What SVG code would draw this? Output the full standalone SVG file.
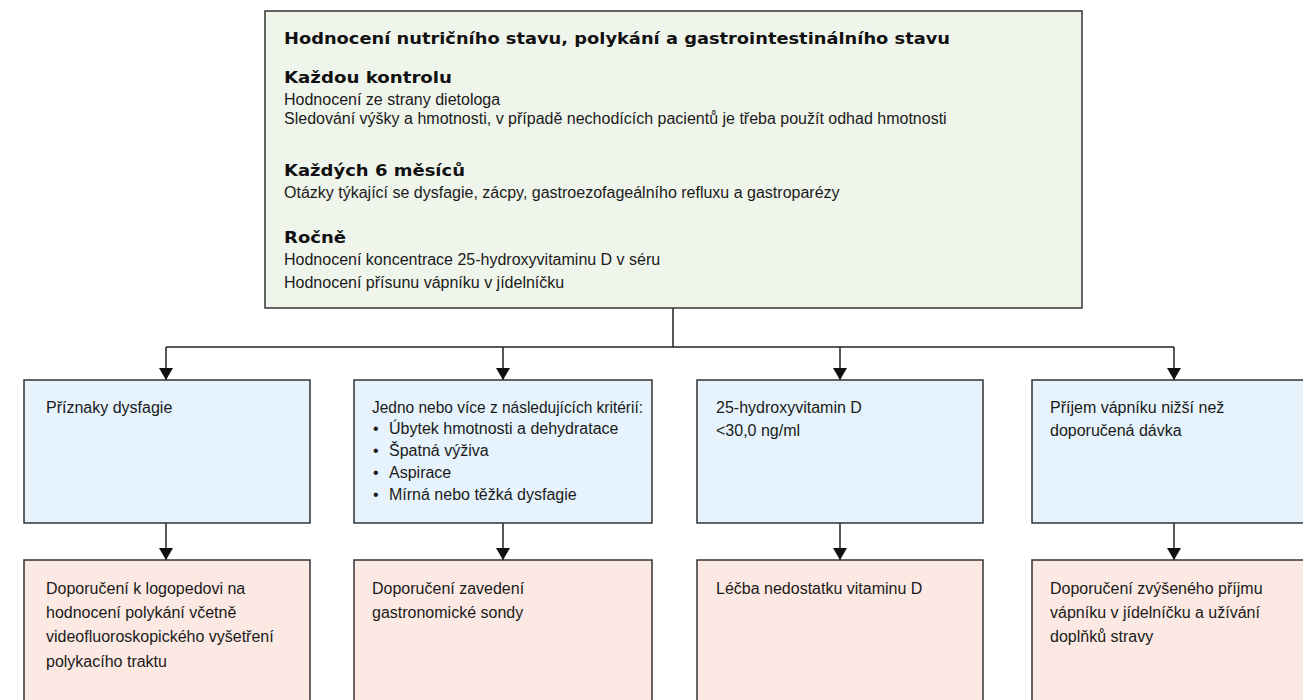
<svg xmlns="http://www.w3.org/2000/svg" width="1303" height="700" viewBox="0 0 1303 700">
  <style>
    .box { stroke: #333333; stroke-width: 1.5; }
    .green { fill: #f0f5ec; }
    .blue { fill: #e6f3fc; }
    .rose { fill: #fde9e3; }
    .title { font-family: "DejaVu Sans", "Liberation Sans", sans-serif; font-weight: bold; font-size: 15px; fill: #111111; }
    .head { font-family: "DejaVu Sans", "Liberation Sans", sans-serif; font-weight: bold; font-size: 16.5px; fill: #111111; }
    .body { font-family: "Liberation Sans", Arial, sans-serif; font-size: 16px; fill: #1a1a1a; }
    .conn { fill: none; stroke: #222222; stroke-width: 1.5; }
  </style>
  <defs>
    <!-- solid triangular head, drawn along +x so orient="auto" follows the line -->
    <marker id="arrow" markerUnits="userSpaceOnUse" markerWidth="13" markerHeight="14" refX="12" refY="7" orient="auto" viewBox="0 0 13 14">
      <path d="M0,0 L12,7 L0,14 Z" fill="#111111"/>
    </marker>
  </defs>

  <rect width="1303" height="700" fill="#ffffff"/>

  <!-- connectors -->
  <g id="connectors">
    <polyline class="conn" points="673,308 673,347"/>
    <polyline class="conn" points="166,347 1174,347"/>
    <line class="conn" x1="166" y1="347" x2="166" y2="380" marker-end="url(#arrow)"/>
    <line class="conn" x1="503" y1="347" x2="503" y2="380" marker-end="url(#arrow)"/>
    <line class="conn" x1="840" y1="347" x2="840" y2="380" marker-end="url(#arrow)"/>
    <line class="conn" x1="1174" y1="347" x2="1174" y2="380" marker-end="url(#arrow)"/>
    <line class="conn" x1="166" y1="523" x2="166" y2="560" marker-end="url(#arrow)"/>
    <line class="conn" x1="503" y1="523" x2="503" y2="560" marker-end="url(#arrow)"/>
    <line class="conn" x1="840" y1="523" x2="840" y2="560" marker-end="url(#arrow)"/>
    <line class="conn" x1="1174" y1="523" x2="1174" y2="560" marker-end="url(#arrow)"/>
  </g>

  <!-- monitoring schedule -->
  <g id="assessment">
    <rect class="box green" x="265" y="11" width="817" height="297"/>
    <text class="title" x="284" y="44" textLength="666" lengthAdjust="spacingAndGlyphs">Hodnocení nutričního stavu, polykání a gastrointestinálního stavu</text>
    <text class="head" x="284" y="83" textLength="168" lengthAdjust="spacingAndGlyphs">Každou kontrolu</text>
    <text class="body" x="284" y="105">Hodnocení ze strany dietologa</text>
    <text class="body" x="284" y="124">Sledování výšky a hmotnosti, v případě nechodících pacientů je třeba použít odhad hmotnosti</text>
    <text class="head" x="284" y="176" textLength="181" lengthAdjust="spacingAndGlyphs">Každých 6 měsíců</text>
    <text class="body" x="284" y="198">Otázky týkající se dysfagie, zácpy, gastroezofageálního refluxu a gastroparézy</text>
    <text class="head" x="284" y="243" textLength="62" lengthAdjust="spacingAndGlyphs">Ročně</text>
    <text class="body" x="284" y="265">Hodnocení koncentrace 25-hydroxyvitaminu D v séru</text>
    <text class="body" x="284" y="288">Hodnocení přísunu vápníku v jídelníčku</text>
  </g>

  <!-- findings -->
  <g id="dysphagia-signs">
    <rect class="box blue" x="24" y="380" width="286" height="143"/>
    <text class="body" x="46" y="413">Příznaky dysfagie</text>
  </g>
  <g id="criteria">
    <rect class="box blue" x="354" y="380" width="298" height="143"/>
    <text class="body" x="372" y="413" textLength="271" lengthAdjust="spacingAndGlyphs">Jedno nebo více z následujících kritérií:</text>
    <text class="body" x="373" y="434" font-size="13">•</text><text class="body" x="389" y="434">Úbytek hmotnosti a dehydratace</text>
    <text class="body" x="373" y="456" font-size="13">•</text><text class="body" x="389" y="456">Špatná výživa</text>
    <text class="body" x="373" y="478" font-size="13">•</text><text class="body" x="389" y="478">Aspirace</text>
    <text class="body" x="373" y="500" font-size="13">•</text><text class="body" x="389" y="500">Mírná nebo těžká dysfagie</text>
  </g>
  <g id="vitamin-d-level">
    <rect class="box blue" x="697" y="380" width="286" height="143"/>
    <text class="body" x="716" y="413">25-hydroxyvitamin D</text>
    <text class="body" x="716" y="436">&lt;30,0 ng/ml</text>
  </g>
  <g id="calcium-intake">
    <rect class="box blue" x="1032" y="380" width="286" height="143"/>
    <text class="body" x="1050" y="413">Příjem vápníku nižší než</text>
    <text class="body" x="1050" y="436">doporučená dávka</text>
  </g>

  <!-- recommendations -->
  <g id="speech-therapy">
    <rect class="box rose" x="24" y="560" width="286" height="160"/>
    <text class="body" x="46" y="594">Doporučení k logopedovi na</text>
    <text class="body" x="46" y="618">hodnocení polykání včetně</text>
    <text class="body" x="46" y="642">videofluoroskopického vyšetření</text>
    <text class="body" x="46" y="667">polykacího traktu</text>
  </g>
  <g id="feeding-tube">
    <rect class="box rose" x="354" y="560" width="298" height="160"/>
    <text class="body" x="372" y="594">Doporučení zavedení</text>
    <text class="body" x="372" y="618">gastronomické sondy</text>
  </g>
  <g id="vitamin-d-treatment">
    <rect class="box rose" x="697" y="560" width="286" height="160"/>
    <text class="body" x="716" y="594">Léčba nedostatku vitaminu D</text>
  </g>
  <g id="calcium-supplement">
    <rect class="box rose" x="1032" y="560" width="286" height="160"/>
    <text class="body" x="1050" y="594">Doporučení zvýšeného příjmu</text>
    <text class="body" x="1050" y="618">vápníku v jídelníčku a užívání</text>
    <text class="body" x="1050" y="642">doplňků stravy</text>
  </g>
</svg>
